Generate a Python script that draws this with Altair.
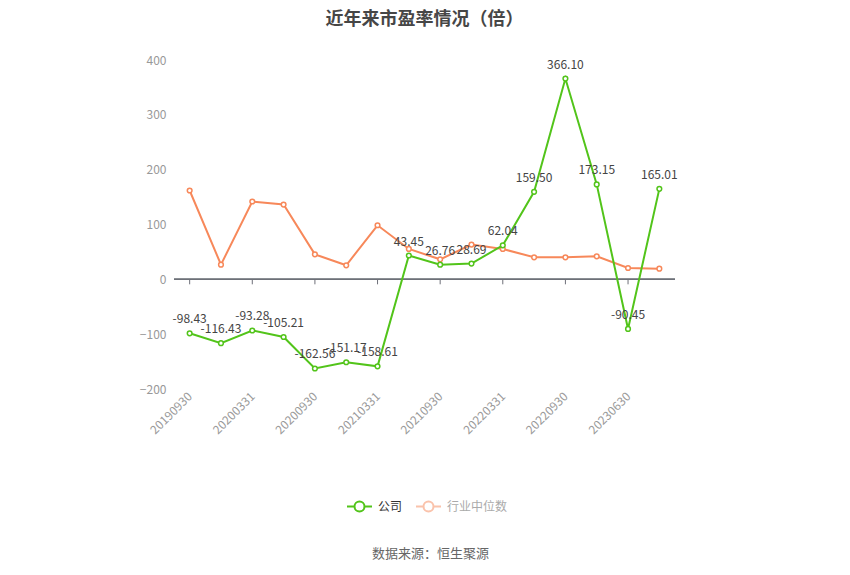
import altair as alt
import pandas as pd

dates = ['20190930', '20191231', '20200331', '20200630', '20200930', '20201231',
         '20210331', '20210630', '20210930', '20211231', '20220331', '20220630',
         '20220930', '20221231', '20230630', '20230930']
company = [-98.43, -116.43, -93.28, -105.21, -162.56, -151.17, -158.61, 43.45,
           26.76, 28.69, 62.04, 159.50, 366.10, 173.15, -90.45, 165.01]
industry = [162.0, 26.8, 142.0, 136.4, 45.6, 25.6, 98.6, 55.4,
            36.5, 63.3, 55.4, 40.2, 40.2, 42.0, 20.7, 19.5]
shown_dates = dates[0:16:2]
series_names = ['公司', '行业中位数']

GREEN = '#52c41a'
ORANGE = '#f7885a'
FONT = 'Noto Sans CJK SC'

df_c = pd.DataFrame({'date': dates, 'value': company, 'series': series_names[0],
                     'label': [f'{v:.2f}' for v in company]})
df_i = pd.DataFrame({'date': dates, 'value': industry, 'series': series_names[1]})
df_t = pd.DataFrame({'date': shown_dates})

x_enc = alt.X('date:N', sort=dates,
              scale=alt.Scale(type='point', padding=0.5),
              axis=alt.Axis(values=shown_dates, labelAngle=-45, labelColor='#999999',
                            labelFontSize=12, labelFont=FONT, domain=False, ticks=False,
                            grid=False, labelPadding=5,
                            title='数据来源：恒生聚源', titleFont=FONT, titleFontSize=13,
                            titleFontWeight='normal', titleColor='#666666',
                            titleX=256, titleY=164, titleBaseline='middle',
                            titleAnchor='middle'))
y_enc = alt.Y('value:Q', scale=alt.Scale(domain=[-200, 400], nice=False),
              axis=alt.Axis(values=[-200, -100, 0, 100, 200, 300, 400], title=None,
                            labelColor='#999999', labelFontSize=12, labelFont=FONT,
                            domain=False, ticks=False, gridColor='#e0e6f1',
                            labelPadding=8))

sym = 'M-1,0H-0.4M0.4,0H1M0.4,0A0.4,0.4,0,1,1,-0.4,0A0.4,0.4,0,1,1,0.4,0'

zero = alt.Chart(df_t).mark_rule(color='#6e7079', strokeWidth=1).encode(
    y=alt.datum(0))
ticks = alt.Chart(df_t).mark_rule(color='#6e7079', strokeWidth=1).encode(
    x=alt.X('date:N', sort=dates), y=alt.datum(0), y2=alt.datum(-9.1))

ind_line = alt.Chart(df_i).mark_line(
    strokeWidth=2,
    point=alt.OverlayMarkDef(filled=False, fill='white', size=22, strokeWidth=1.5)
).encode(
    x=x_enc, y=y_enc,
    color=alt.Color('series:N', scale=alt.Scale(domain=[series_names[1]], range=[ORANGE]),
                    legend=alt.Legend(orient='none', legendX=241, legendY=433, title=None,
                                      symbolType=sym, symbolSize=625, symbolStrokeWidth=2,
                                      symbolOpacity=0.5,
                                      labelColor='#aaaaaa', labelFontSize=12, labelFont=FONT,
                                      labelOffset=5, padding=0))
)

com_line = alt.Chart(df_c).mark_line(
    strokeWidth=2,
    point=alt.OverlayMarkDef(filled=False, fill='white', size=22, strokeWidth=1.5)
).encode(
    x=x_enc, y=y_enc,
    color=alt.Color('series:N', scale=alt.Scale(domain=[series_names[0]], range=[GREEN]),
                    legend=alt.Legend(orient='none', legendX=172, legendY=433, title=None,
                                      symbolType=sym, symbolSize=625, symbolStrokeWidth=2,
                                      labelColor='#333333', labelFontSize=12, labelFont=FONT,
                                      labelOffset=5, padding=0))
)

com_text = alt.Chart(df_c).mark_text(
    baseline='bottom', dy=-7, fontSize=12, font=FONT, color='#444444'
).encode(x=x_enc, y=y_enc, text='label:N')

chart = alt.layer(zero, ticks, ind_line, com_line, com_text).resolve_scale(
    color='independent'
).properties(
    width=501, height=329,
    autosize=alt.AutoSizeParams(type='none'),
    padding={'left': 166, 'top': 52, 'right': 167, 'bottom': 178},
    title=alt.TitleParams('近年来市盈率情况（倍）', font=FONT, fontSize=18, fontWeight='bold',
                          color='#464646', anchor='middle', offset=25)
).configure_view(stroke=None)

chart.save('out.html', embed_options={'renderer': 'svg', 'actions': False})
